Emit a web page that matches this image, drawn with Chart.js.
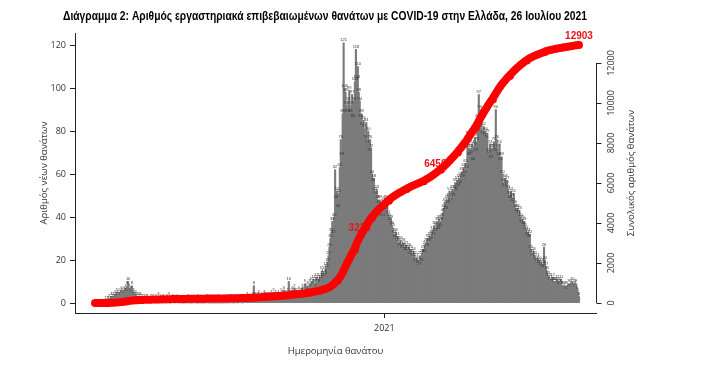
<!DOCTYPE html>
<html>
<head>
<meta charset="utf-8">
<script src="https://cdn.jsdelivr.net/npm/chart.js@4.4.0/dist/chart.umd.min.js"></script>
<style>
  body { margin: 0; background: #fff; }
  #chart { display: block; }
</style>
</head>
<body>
<canvas id="chart" width="718" height="367"></canvas>
<script>
// Daily deaths by date of death, one array per month (first day: 1 March 2020)
const mar20 = [0,0,0,0,0,0,0,0,0,0,0, 1,0,1,1,2,1,3,2,3,2, 4,3,5,4,3,5,4,6,5,4];
const apr20 = [6,7,5,8,10,7,5,6,8,4,5,3,4,3,2,3,2,3,2,2,1,2,1,2,2,1,1,1,2,1];
const may20 = [2,1,1,2,0,1,3,1,2,1,0,2,1,1,0,2,1,3,1,0,1,2,1,0,1,1,2,0,1,1,0];
const jun20 = [1,0,0,1,0,1,2,0,1,0,0,1,0,1,1,0,0,2,0,1,0,1,0,0,1,0,2,1,0,1];
const jul20 = [0,1,0,0,1,0,1,0,2,0,0,1,0,0,1,1,0,2,0,1,0,1,2,0,1,0,1,2,1,0,2];
const aug20 = [1,1,1,0,2,2,1,2,3,2,1,1,2,2,3,8,3,2,2,3,4,2,1,3,2,2,4,3,3,2,3];
const sep20 = [3,2,4,2,3,5,3,4,3,2,4,3,3,5,4,3,6,3,4,3,5,10,4,3,5,6,4,7,5,4];
const oct20 = [5,4,6,3,5,7,6,4,9,7,6,8,5,9,7,10,8,11,9,7,12,10,11,9,12,11,15,12,14,13,17];
const nov20 = [16,19,22,26,30,33,38,32,40,62,48,52,44,51,63,76,68,88,121,100,98,92,88,94,99,88,92,97,86,94];
const dec20 = [103,118,104,110,98,94,86,88,82,85,81,76,84,74,80,70,76,72,60,56,58,52,50,53,48,46,48,42,45,40,47];
const jan21 = [46,48,43,45,41,40,38,39,36,35,32,30,33,29,31,28,26,29,27,25,28,26,24,27,25,24,26,22,25,23,21];
const feb21 = [24,22,19,21,18,20,17,22,19,23,25,23,27,28,26,30,28,31,29,32,34,31,36,33,35,38,34,39];
const mar21 = [35,38,40,42,44,47,43,48,46,49,52,47,50,53,49,53,56,52,57,54,58,55,59,61,58,63,60,65,62,78,72];
const apr21 = [68,72,69,74,66,73,77,70,75,86,97,90,85,81,78,82,77,80,76,79,70,69,74,67,72,72,75,70,90,76];
const may21 = [72,68,74,66,68,60,56,54,58,55,57,53,50,48,52,49,47,51,46,44,42,44,41,43,40,37,39,36,38,35,34];
const jun21 = [31,33,30,32,25,23,21,24,22,20,19,21,18,20,17,19,16,18,26,20,17,15,13,12,10,11,9,12,10,10];
const jul21 = [10,9,11,8,10,9,11,8,8,7,8,6,8,7,9,7,9,8,10,7,9,8,9,6,5,3];

const leftTicks = [0, 20, 40, 60, 80, 100, 120];
const rightTicks = [0, 2000, 4000, 6000, 8000, 10000, 12000];
const milestones = [3226, 6450, 12903];
const yearTickDates = ['2021-01-01'];
const yearTickLabels = ['2021'];

const titleText = 'Διάγραμμα 2: Αριθμός εργαστηριακά επιβεβαιωμένων θανάτων με COVID-19 στην Ελλάδα, 26 Ιουλίου 2021';

const dailyDeaths = [].concat(mar20, apr20, may20, jun20, jul20, aug20, sep20, oct20, nov20, dec20,
                              jan21, feb21, mar21, apr21, may21, jun21, jul21);

// one date per day, starting 1 March 2020
const dayLabels = dailyDeaths.map((_, i) => new Date(Date.UTC(2020, 2, 1 + i)).toISOString().slice(0, 10));
const yearTickIdx = yearTickDates.map(d => dayLabels.indexOf(d));

let running = 0;
const cumulative = dailyDeaths.map(v => (running += v));

const AXIS = '#222';
const TEXT = '#333';
const RED = '#ff0000';

// small value labels above every bar, and the red milestone numbers (under the line)
const barText = {
  id: 'barText',
  afterDatasetDraw(chart, args) {
    if (args.index !== 0) return;
    const c = chart.ctx;
    const meta = chart.getDatasetMeta(0);
    c.save();
    c.font = '4px "Liberation Sans"';
    c.fillStyle = '#333';
    c.textAlign = 'center';
    c.textBaseline = 'bottom';
    meta.data.forEach((bar, i) => {
      c.fillText(String(dailyDeaths[i]), bar.x, bar.y - 0.5);
    });
    const xs = chart.scales.x, ys = chart.scales.y2;
    c.font = 'bold 10px "Liberation Sans"';
    c.fillStyle = '#e8141b';
    c.textBaseline = 'middle';
    milestones.forEach(m => {
      const idx = cumulative.findIndex(v => v >= m);
      c.fillText(String(m), xs.getPixelForValue(idx), ys.getPixelForValue(cumulative[idx]) - 9);
    });
    c.restore();
  }
};

// right axis (labels read upward) and main title
const extras = {
  id: 'extras',
  afterDraw(chart) {
    const c = chart.ctx;
    const s = chart.scales.y2;
    const x0 = Math.round(s.left) + 0.5;
    c.save();
    c.strokeStyle = AXIS;
    c.lineWidth = 1;
    c.beginPath();
    c.moveTo(x0, s.getPixelForValue(rightTicks[0]));
    c.lineTo(x0, s.getPixelForValue(rightTicks[rightTicks.length - 1]));
    rightTicks.forEach(v => {
      const y = Math.round(s.getPixelForValue(v)) + 0.5;
      c.moveTo(x0, y);
      c.lineTo(x0 + 5, y);
    });
    c.stroke();
    c.fillStyle = TEXT;
    c.textAlign = 'center';
    c.textBaseline = 'middle';
    c.font = '9px "Open Sans"';
    rightTicks.forEach(v => {
      c.save();
      c.translate(x0 + 15, s.getPixelForValue(v));
      c.rotate(-Math.PI / 2);
      c.fillText(String(v), 0, 0);
      c.restore();
    });
    c.save();
    c.font = '9.5px "Open Sans"';
    c.translate(x0 + 35, (chart.chartArea.top + chart.chartArea.bottom) / 2);
    c.rotate(-Math.PI / 2);
    c.fillText('Συνολικός αριθμός θανάτων', 0, 0);
    c.restore();

    // condensed bold title, squeezed to the width it has in the original
    c.save();
    c.font = 'bold 12px "Liberation Sans"';
    c.fillStyle = '#000';
    const w = c.measureText(titleText).width;
    c.translate(325, 17);
    c.scale(524 / w, 1);
    c.fillText(titleText, 0, 0);
    c.restore();
    c.restore();
  }
};

const ctx = document.getElementById('chart').getContext('2d');
new Chart(ctx, {
  type: 'bar',
  data: {
    datasets: [{
      type: 'bar',
      data: dailyDeaths.map((v, i) => ({ x: i, y: v })),
      backgroundColor: '#7b7b7b',
      barThickness: 1.5,
      yAxisID: 'y',
      order: 2
    }, {
      type: 'line',
      data: cumulative.map((v, i) => ({ x: i, y: v })),
      borderColor: RED,
      borderWidth: 8,
      borderCapStyle: 'round',
      borderJoinStyle: 'round',
      pointRadius: 0,
      tension: 0,
      yAxisID: 'y2',
      order: 1
    }]
  },
  options: {
    responsive: false,
    animation: false,
    layout: { padding: { top: 33, left: 0, right: 0, bottom: 0 } },
    plugins: { legend: { display: false }, tooltip: { enabled: false }, title: { display: false } },
    scales: {
      x: {
        type: 'linear',
        min: -21.2,
        max: 530,
        offset: false,
        afterBuildTicks: s => { s.ticks = yearTickIdx.map(v => ({ value: v })); },
        afterFit: s => { s.height = 54; },
        ticks: {
          color: TEXT,
          font: { family: 'Open Sans', size: 9 },
          padding: 5,
          autoSkip: false,
          maxRotation: 0,
          callback: v => yearTickLabels[yearTickIdx.indexOf(v)]
        },
        grid: { drawOnChartArea: false, color: AXIS, tickLength: 5, offset: false },
        border: { color: AXIS },
        title: {
          display: true,
          text: 'Ημερομηνία θανάτου',
          color: TEXT,
          font: { family: 'Open Sans', size: 9.5 },
          padding: { top: 4, bottom: 10 }
        }
      },
      y: {
        position: 'left',
        min: -4.65,
        max: 125.6,
        afterBuildTicks: s => { s.ticks = leftTicks.map(v => ({ value: v })); },
        afterFit: s => { s.width = 75; },
        ticks: { color: TEXT, font: { family: 'Open Sans', size: 9 }, padding: 4 },
        grid: { drawOnChartArea: false, color: AXIS, tickLength: 5 },
        border: { color: AXIS },
        title: {
          display: true,
          text: 'Αριθμός νέων θανάτων',
          color: TEXT,
          font: { family: 'Open Sans', size: 9.5 },
          padding: { top: 39, bottom: 0 }
        }
      },
      y2: {
        position: 'right',
        min: -500,
        max: 13500,
        afterFit: s => { s.width = 122; },
        ticks: { display: false },
        grid: { display: false },
        border: { display: false }
      }
    }
  },
  plugins: [barText, extras]
});
</script>
</body>
</html>
